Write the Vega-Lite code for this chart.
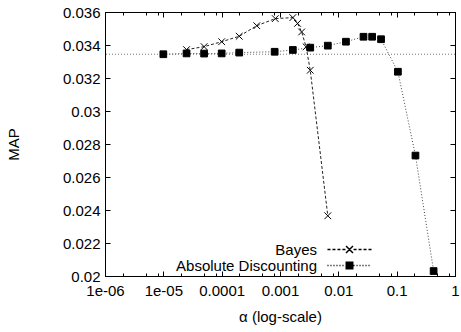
{
  "$schema": "https://vega.github.io/schema/vega-lite/v6.json",
  "width": 350,
  "height": 264,
  "autosize": {"type": "none"},
  "padding": {"left": 105, "top": 12, "right": 6, "bottom": 56},
  "config": {
    "font": "Liberation Sans",
    "view": {"stroke": "black", "strokeWidth": 1},
    "axis": {"grid": false, "domainColor": "black", "tickColor": "black", "labelColor": "black", "titleColor": "black", "labelFontSize": 15, "titleFontSize": 15, "titleFontWeight": "normal", "labelFont": "Liberation Sans", "titleFont": "Liberation Sans"}
  },
  "datasets": {
    "curves": [
      {"series": "Bayes", "alpha": 0.000025, "map": 0.03372},
      {"series": "Bayes", "alpha": 0.00005, "map": 0.0339},
      {"series": "Bayes", "alpha": 0.0001, "map": 0.0342},
      {"series": "Bayes", "alpha": 0.0002, "map": 0.03453},
      {"series": "Bayes", "alpha": 0.0004, "map": 0.03517},
      {"series": "Bayes", "alpha": 0.00083, "map": 0.0356},
      {"series": "Bayes", "alpha": 0.00166, "map": 0.03566},
      {"series": "Bayes", "alpha": 0.002, "map": 0.03531},
      {"series": "Bayes", "alpha": 0.00235, "map": 0.03479},
      {"series": "Bayes", "alpha": 0.0028, "map": 0.03389},
      {"series": "Bayes", "alpha": 0.0033, "map": 0.03247},
      {"series": "Bayes", "alpha": 0.0066, "map": 0.02365},
      {"series": "Absolute Discounting", "alpha": 0.00001, "map": 0.03344},
      {"series": "Absolute Discounting", "alpha": 0.000025, "map": 0.03349},
      {"series": "Absolute Discounting", "alpha": 0.00005, "map": 0.03348},
      {"series": "Absolute Discounting", "alpha": 0.0001, "map": 0.03349},
      {"series": "Absolute Discounting", "alpha": 0.0002, "map": 0.03354},
      {"series": "Absolute Discounting", "alpha": 0.00081, "map": 0.03359},
      {"series": "Absolute Discounting", "alpha": 0.00166, "map": 0.0337},
      {"series": "Absolute Discounting", "alpha": 0.0033, "map": 0.03384},
      {"series": "Absolute Discounting", "alpha": 0.0066, "map": 0.03396},
      {"series": "Absolute Discounting", "alpha": 0.0135, "map": 0.0342},
      {"series": "Absolute Discounting", "alpha": 0.027, "map": 0.0345},
      {"series": "Absolute Discounting", "alpha": 0.038, "map": 0.0345},
      {"series": "Absolute Discounting", "alpha": 0.054, "map": 0.03435},
      {"series": "Absolute Discounting", "alpha": 0.105, "map": 0.03238},
      {"series": "Absolute Discounting", "alpha": 0.21, "map": 0.0273},
      {"series": "Absolute Discounting", "alpha": 0.43, "map": 0.0203}
    ],
    "baseline": [{"map": 0.03344}]
  },
  "resolve": {"scale": {"shape": "independent"}, "axis": {"x": "independent", "y": "independent"}},
  "layer": [
    {
      "data": {"name": "baseline"},
      "mark": {"type": "rule", "stroke": "#777", "strokeDash": [1, 2], "strokeWidth": 1},
      "encoding": {
        "y": {"field": "map", "type": "quantitative", "scale": {"domain": [0.02, 0.036], "nice": false, "zero": false}, "axis": null}
      }
    },
    {
      "data": {"name": "curves"},
      "mark": {"type": "line", "strokeWidth": 1},
      "encoding": {
        "x": {"field": "alpha", "type": "quantitative", "scale": {"type": "log", "domain": [0.000001, 1], "nice": false},
          "axis": {"orient": "bottom", "values": [0.000001, 0.00001, 0.0001, 0.001, 0.01, 0.1, 1], "labelExpr": "datum.value < 0.000005 ? '1e-06' : datum.value < 0.00005 ? '1e-05' : format(datum.value, '~g')", "tickSize": -5, "labelPadding": 12, "labelFlush": false, "labelOverlap": false, "title": "α (log-scale)", "titleX": 175, "titleY": 40, "titleBaseline": "middle", "titleAnchor": null}},
        "y": {"field": "map", "type": "quantitative", "scale": {"domain": [0.02, 0.036], "nice": false, "zero": false},
          "axis": {"orient": "left", "values": [0.02, 0.022, 0.024, 0.026, 0.028, 0.03, 0.032, 0.034, 0.036], "format": "~g", "tickSize": -5, "labelPadding": 10, "labelFlush": false, "labelOverlap": false, "title": "MAP", "titleX": -92, "titleY": 132, "titleBaseline": "middle", "titleAngle": -90}},
        "strokeDash": {"field": "series", "type": "nominal", "scale": {"domain": ["Bayes", "Absolute Discounting"], "range": [[3, 2], [1, 2]]}, "legend": null},
        "color": {"field": "series", "type": "nominal", "scale": {"domain": ["Bayes", "Absolute Discounting"], "range": ["#222222", "#444444"]}, "legend": null}
      }
    },
    {
      "data": {"name": "curves"},
      "mark": {"type": "point", "stroke": "black", "strokeWidth": 1, "size": 45, "opacity": 1},
      "encoding": {
        "x": {"field": "alpha", "type": "quantitative", "scale": {"type": "log"},
          "axis": {"orient": "top", "values": [0.000001, 0.00001, 0.0001, 0.001, 0.01, 0.1, 1], "labels": false, "tickSize": -5, "title": null}},
        "y": {"field": "map", "type": "quantitative",
          "axis": {"orient": "right", "values": [0.02, 0.022, 0.024, 0.026, 0.028, 0.03, 0.032, 0.034, 0.036], "labels": false, "tickSize": -5, "title": null}},
        "shape": {"field": "series", "type": "nominal", "scale": {"domain": ["Bayes", "Absolute Discounting"], "range": ["M-1,-1L1,1M1,-1L-1,1", "square"]}, "legend": null},
        "fill": {"field": "series", "type": "nominal", "scale": {"domain": ["Bayes", "Absolute Discounting"], "range": ["transparent", "black"]}, "legend": null}
      }
    },
    {
      "data": {"name": "curves"},
      "mark": {"type": "point", "fill": "black", "stroke": "black", "strokeWidth": 1, "opacity": 0},
      "encoding": {
        "x": {"field": "alpha", "type": "quantitative", "scale": {"type": "log"},
          "axis": {"orient": "bottom", "values": [0.000002, 0.000005, 0.000008, 0.00002, 0.00005, 0.00008, 0.0002, 0.0005, 0.0008, 0.002, 0.005, 0.008, 0.02, 0.05, 0.08, 0.2, 0.5, 0.8], "labels": false, "domain": false, "tickSize": -3, "title": null}},
        "y": {"field": "map", "type": "quantitative", "axis": null},
        "shape": {"field": "series", "type": "nominal",
          "scale": {"domain": ["Bayes", "Absolute Discounting"], "range": [
            "M-3.67,0h0.5m0.33,0h0.5m0.33,0h0.5m0.33,0h0.5M0.68,0h0.5m0.33,0h0.5m0.33,0h0.5m0.33,0h0.5M-0.58,-0.58L0.58,0.58M0.58,-0.58L-0.58,0.58",
            "M-3.67,0h0.17m0.33,0h0.17m0.33,0h0.17m0.33,0h0.17m0.33,0h0.17m0.33,0h0.17M0.67,0h0.17m0.33,0h0.17m0.33,0h0.17m0.33,0h0.17m0.33,0h0.17m0.33,0h0.17M-0.54,-0.54h1.08v1.08h-1.08z"
          ]},
          "legend": {"orient": "none", "legendX": 237, "legendY": 230, "padding": 0, "title": null, "labelFont": "Liberation Sans", "labelFontSize": 15, "labelColor": "black", "labelAlign": "right", "labelOffset": -40, "labelLimit": 300, "rowPadding": 0, "symbolSize": 144,
            "encode": {"symbols": {"opacity": {"value": 1}, "fill": {"value": "black"}, "stroke": {"value": "black"}, "strokeWidth": {"value": 1}, "size": {"value": 144}}}}
        }
      }
    },
    {
      "data": {"name": "curves"},
      "mark": {"type": "point", "opacity": 0},
      "encoding": {
        "x": {"field": "alpha", "type": "quantitative", "scale": {"type": "log"},
          "axis": {"orient": "top", "values": [0.000002, 0.000005, 0.000008, 0.00002, 0.00005, 0.00008, 0.0002, 0.0005, 0.0008, 0.002, 0.005, 0.008, 0.02, 0.05, 0.08, 0.2, 0.5, 0.8], "labels": false, "domain": false, "tickSize": -3, "title": null}},
        "y": {"field": "map", "type": "quantitative", "axis": null}
      }
    }
  ]
}
